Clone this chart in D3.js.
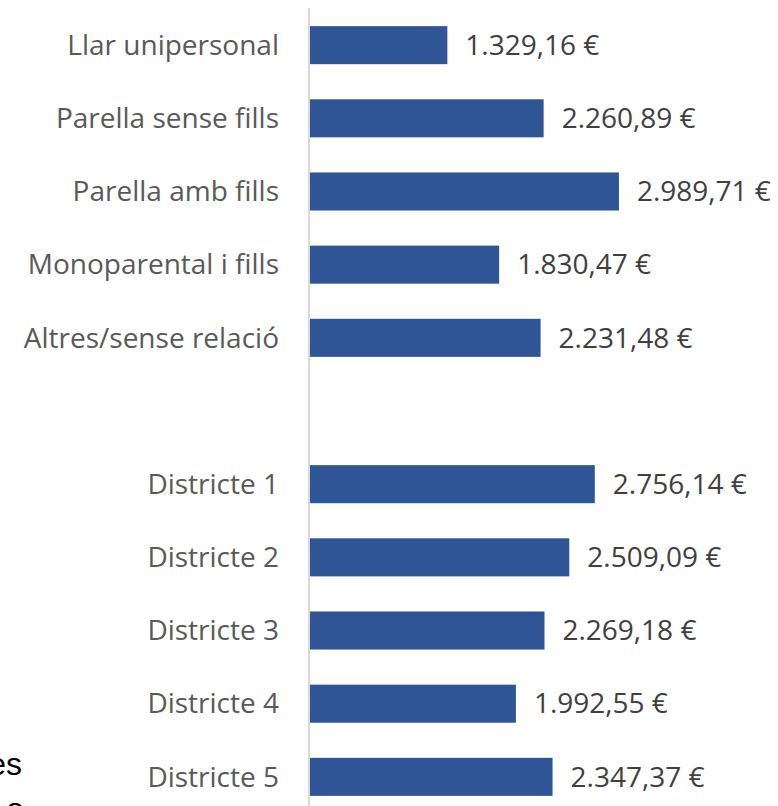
<!DOCTYPE html>
<html>
<head>
<meta charset="utf-8">
<script src="https://cdn.jsdelivr.net/npm/d3@7"></script>
<style>
	html, body { margin: 0; padding: 0; background: #fff; overflow: hidden; }
	svg { display: block; }
</style>
</head>
<body>
<svg id="chart" width="778" height="806"></svg>
<script>
// categories (top to bottom), blank slot between the two groups
var categories = ["Llar unipersonal", "Parella sense fills", "Parella amb fills",
	"Monoparental i fills", "Altres/sense relació", "",
	"Districte 1", "Districte 2", "Districte 3", "Districte 4", "Districte 5"];
var values = [1329.16, 2260.89, 2989.71, 1830.47, 2231.48, null,
	2756.14, 2509.09, 2269.18, 1992.55, 2347.37];
var valueLabels = ["1.329,16 €", "2.260,89 €", "2.989,71 €", "1.830,47 €", "2.231,48 €", "",
	"2.756,14 €", "2.509,09 €", "2.269,18 €", "1.992,55 €", "2.347,37 €"];

var svg = d3.select("#chart");
var font = "'Open Sans', 'Noto Sans', sans-serif";

var x = d3.scaleLinear().domain([0, 3000]).range([310, 620]);
var y = d3.scaleBand().domain(d3.range(categories.length))
	.range([-9, 831]).padding(0.48);

var bars = values.map(function(v, i){ return {v: v, i: i}; })
	.filter(function(d){ return d.v != null; });

// bars
svg.append("g").selectAll("rect")
	.data(bars).enter().append("rect")
	.attr("x", x(0))
	.attr("y", function(d){ return y(d.i); })
	.attr("width", function(d){ return x(d.v) - x(0); })
	.attr("height", y.bandwidth())
	.attr("fill", "#2F5597");

// vertical axis line
svg.append("line")
	.attr("x1", x(0) - 1).attr("x2", x(0) - 1)
	.attr("y1", 8).attr("y2", 806)
	.attr("stroke", "#D9D9D9").attr("stroke-width", 2);

// category labels
svg.append("g").selectAll("text")
	.data(categories).enter().append("text")
	.attr("x", 279)
	.attr("y", function(d, i){ return y(i) + y.bandwidth() / 2; })
	.attr("dy", "0.35em")
	.attr("text-anchor", "end")
	.attr("font-family", font).attr("font-size", 28)
	.attr("fill", "#595959")
	.text(function(d){ return d; });

// value labels
svg.append("g").selectAll("text")
	.data(bars).enter().append("text")
	.attr("x", function(d){ return x(d.v) + 18; })
	.attr("y", function(d){ return y(d.i) + y.bandwidth() / 2; })
	.attr("dy", "0.35em")
	.attr("font-family", font).attr("font-size", 28)
	.attr("fill", "#404040")
	.text(function(d){ return valueLabels[d.i]; });

// clipped text at the bottom-left edge
svg.append("text").attr("x", 22).attr("y", 775)
	.attr("text-anchor", "end")
	.attr("font-family", "'Liberation Sans', Arial, sans-serif").attr("font-size", 32)
	.attr("fill", "#000").text("es");
svg.append("text").attr("x", 23).attr("y", 820)
	.attr("text-anchor", "end")
	.attr("font-family", "'Liberation Sans', Arial, sans-serif").attr("font-size", 32)
	.attr("fill", "#000").text("s");
</script>
</body>
</html>
